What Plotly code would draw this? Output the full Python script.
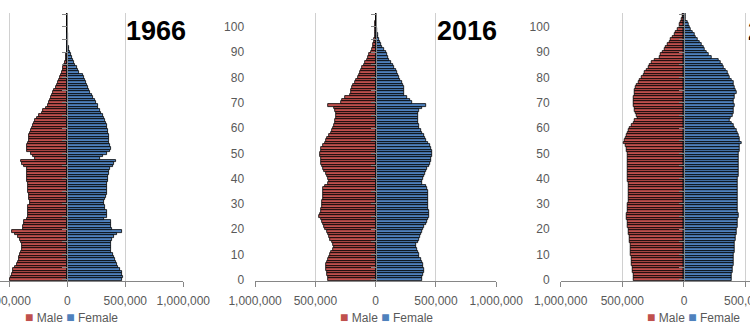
import plotly.graph_objects as go

# Population by single year of age (thousands); ages 0..105
ages = list(range(0, 106))
years = ["1966", "2016", "2066"]

male_1966 = [494, 486, 474, 470, 466, 451, 435, 428, 420, 412,
             408, 398, 394, 394, 394, 396, 408, 422, 451, 480,
             385, 380, 374, 374, 351, 342, 342, 342, 336, 336,
             322, 325, 328, 330, 333, 336, 336, 339, 342, 348,
             351, 351, 351, 351, 351, 374, 388, 402, 279, 293,
             313, 351, 351, 345, 336, 333, 333, 328, 322, 316,
             308, 299, 287, 279, 259, 244, 221, 207, 181, 170,
             161, 149, 141, 129, 121, 112, 98, 86, 78, 69,
             66, 55, 46, 40, 34, 26, 20, 14, 11, 8,
             6, 4, 3, 2, 1.5, 1, 0.8, 0.5, 0.4, 0.3,
             0.2, 0.1, 0.1, 0.1, 0.1, 0.1]
female_1966 = [468, 477, 474, 468, 454, 440, 425, 417, 411, 400,
               391, 378, 374, 374, 374, 376, 388, 405, 425, 474,
               382, 378, 374, 374, 319, 339, 339, 339, 328, 328,
               316, 320, 325, 330, 339, 339, 339, 342, 345, 348,
               348, 355, 362, 362, 368, 397, 405, 417, 282, 310,
               339, 368, 374, 368, 362, 362, 362, 362, 353, 348,
               345, 339, 333, 328, 316, 305, 293, 282, 267, 262,
               250, 239, 224, 210, 198, 190, 175, 167, 158, 149,
               141, 132, 101, 92, 80, 69, 57, 46, 37, 29,
               23, 17, 12, 8, 6, 4, 3, 2, 1.5, 1,
               0.8, 0.5, 0.5, 0.5, 0.5, 0.5]

male_2016 = [398, 398, 400, 406, 412, 412, 412, 406, 398, 384,
             378, 370, 356, 348, 351, 365, 378, 389, 395, 406,
             417, 425, 434, 447, 456, 467, 461, 453, 450, 447,
             442, 442, 439, 436, 436, 434, 434, 423, 392, 389,
             395, 406, 412, 425, 434, 447, 453, 453, 456, 461,
             461, 456, 450, 439, 423, 412, 400, 384, 370, 362,
             351, 342, 337, 334, 331, 331, 331, 337, 342, 392,
             287, 282, 254, 213, 207, 204, 193, 185, 171, 163,
             149, 135, 130, 122, 110, 97, 88, 75, 61, 52,
             41, 33, 25, 19, 14, 10, 8, 6, 4, 3,
             2, 1, 1, 0.5, 0.3, 0.2]
female_2016 = [381, 384, 389, 398, 400, 395, 389, 384, 376, 362,
               356, 351, 340, 331, 337, 348, 359, 370, 378, 387,
               395, 403, 414, 425, 434, 445, 442, 439, 436, 434,
               436, 436, 434, 434, 434, 431, 428, 417, 387, 384,
               389, 400, 409, 417, 428, 439, 450, 456, 461, 464,
               467, 467, 458, 450, 434, 422, 411, 400, 387, 373,
               362, 356, 354, 354, 351, 354, 354, 362, 381, 414,
               304, 284, 257, 235, 238, 238, 232, 224, 215, 204,
               193, 182, 174, 166, 155, 141, 124, 113, 105, 91,
               83, 69, 55, 44, 36, 28, 22, 17, 13, 9,
               7, 4, 3, 2, 1, 1]

male_2066 = [411, 411, 411, 414, 416, 420, 422, 422, 424, 427,
             430, 432, 432, 434, 436, 440, 443, 443, 446, 449,
             452, 455, 457, 457, 462, 465, 465, 461, 459, 457,
             455, 452, 451, 451, 451, 451, 451, 451, 451, 454,
             457, 459, 459, 459, 459, 459, 459, 459, 459, 459,
             453, 465, 465, 470, 487, 478, 470, 465, 457, 451,
             438, 424, 411, 397, 378, 384, 395, 403, 403, 411,
             405, 411, 411, 403, 403, 403, 395, 384, 370, 357,
             343, 330, 322, 303, 289, 276, 262, 235, 200, 186,
             173, 159, 146, 132, 119, 108, 92, 78, 65, 54,
             38, 32, 24, 19, 14, 14]
female_2066 = [386, 389, 389, 392, 395, 397, 400, 400, 400, 403,
               405, 408, 408, 408, 411, 414, 418, 422, 424, 427,
               430, 432, 432, 432, 438, 441, 441, 436, 435, 435,
               433, 432, 432, 432, 432, 432, 432, 432, 432, 435,
               438, 441, 441, 441, 441, 441, 441, 441, 441, 441,
               445, 449, 449, 454, 468, 454, 449, 441, 435, 427,
               414, 400, 387, 373, 381, 392, 400, 400, 405, 408,
               405, 405, 414, 414, 427, 422, 414, 405, 400, 387,
               373, 362, 351, 341, 324, 314, 297, 278, 224, 197,
               184, 170, 157, 143, 130, 111, 95, 84, 68, 54,
               43, 35, 27, 16, 11, 11]

UNIT = 1000  # values above are in thousands

x_tickvals = [-1000000, -500000, 0, 500000, 1000000]
x_ticktext = ["1,000,000", "500,000", "0", "500,000", "1,000,000"]
y_tickvals = list(range(0, 101, 10))
y_minor_ticks = list(range(0, 106, 5))

male_data = [male_1966, male_2016, male_2066]
female_data = [female_1966, female_2016, female_2066]

MALE_COLOR = "#C0504D"
FEMALE_COLOR = "#4F81BD"
AXIS_COLOR = "#868686"
GRID_COLOR = "#D0D0D0"
TEXT_COLOR = "#595959"
FONT = "Liberation Sans"

# layout geometry (paper fractions)
x_domains = [[0.0, 0.2444], [0.3401, 0.6617], [0.7475, 1.0]]
x_ranges = [[-580000, 1000000], [-1000000, 1000000], [-1000000, 535000]]
y_domain = [0.1459, 0.9605]
y_range = [-0.5, 105.5]
title_x = [0.2507, 0.6654, 1.0800]
legend_x = [0.0947, 0.5147, 0.9247]
show_y_labels = [False, True, True]  # first panel's labels lie off the page

fig = go.Figure()
layout = dict(
    width=750, height=329,
    margin=dict(l=0, r=0, t=0, b=0, autoexpand=False),
    paper_bgcolor="white", plot_bgcolor="white",
    barmode="overlay", bargap=0,
    showlegend=False,
    font=dict(family=FONT, size=12, color=TEXT_COLOR),
)
annotations = []

for i in range(3):
    n = i + 1
    xa = "x" if n == 1 else f"x{n}"
    ya = "y" if n == 1 else f"y{n}"
    ya_ov = f"y{n + 3}"
    fig.add_trace(go.Bar(
        x=[-v * UNIT for v in male_data[i]], y=ages, orientation="h",
        name="Male", xaxis=xa, yaxis=ya,
        marker=dict(color=MALE_COLOR, line=dict(color="#000000", width=0.8)),
        hoverinfo="skip",
    ))
    fig.add_trace(go.Bar(
        x=[v * UNIT for v in female_data[i]], y=ages, orientation="h",
        name="Female", xaxis=xa, yaxis=ya_ov,
        marker=dict(color=FEMALE_COLOR, line=dict(color="#000000", width=0.8)),
        hoverinfo="skip",
    ))
    d0, d1 = x_domains[i]
    r0, r1 = x_ranges[i]
    zero_pos = d0 + (0 - r0) / (r1 - r0) * (d1 - d0)

    layout[f"xaxis{'' if n == 1 else n}"] = dict(
        domain=x_domains[i], range=x_ranges[i], anchor=ya,
        automargin=False, ticklabeloverflow="allow",
        tickvals=x_tickvals, ticktext=x_ticktext,
        showgrid=True, gridcolor=GRID_COLOR, gridwidth=1,
        zeroline=False, showline=True, linecolor=AXIS_COLOR, linewidth=1,
        ticks="outside", ticklen=5, tickcolor=AXIS_COLOR, tickwidth=1,
        ticklabelstandoff=4,
        tickfont=dict(family=FONT, size=12, color=TEXT_COLOR),
        fixedrange=True,
    )
    layout[f"yaxis{'' if n == 1 else n}"] = dict(
        domain=y_domain, range=y_range, anchor=xa,
        automargin=False, showticklabels=show_y_labels[i],
        tickvals=y_tickvals, showgrid=False, zeroline=False,
        showline=False, ticks="", ticklabelstandoff=10,
        tickfont=dict(family=FONT, size=12, color=TEXT_COLOR),
        fixedrange=True,
    )
    layout[f"yaxis{n + 3}"] = dict(
        overlaying=ya, anchor="free", position=zero_pos, side="left",
        domain=y_domain, range=y_range, automargin=False,
        tickvals=y_minor_ticks, showticklabels=False,
        showgrid=False, zeroline=False,
        showline=True, linecolor=AXIS_COLOR, linewidth=1,
        ticks="outside", ticklen=5, tickcolor=AXIS_COLOR, tickwidth=1,
        fixedrange=True,
    )
    annotations.append(dict(
        text=years[i], xref="paper", yref="paper",
        x=title_x[i], y=0.9067, xanchor="right", yanchor="middle",
        showarrow=False,
        font=dict(family=FONT, size=27, color="#000000", weight="bold"),
    ))
    annotations.append(dict(
        text=(f'<span style="color:{MALE_COLOR};font-size:14px">■</span> Male '
              f'<span style="color:{FEMALE_COLOR};font-size:14px">■</span> Female'),
        xref="paper", yref="paper",
        x=legend_x[i], y=0.0365, xanchor="center", yanchor="middle",
        showarrow=False,
        font=dict(family=FONT, size=12, color=TEXT_COLOR),
    ))

layout["annotations"] = annotations
fig.update_layout(**layout)
fig.write_html("out.html")
